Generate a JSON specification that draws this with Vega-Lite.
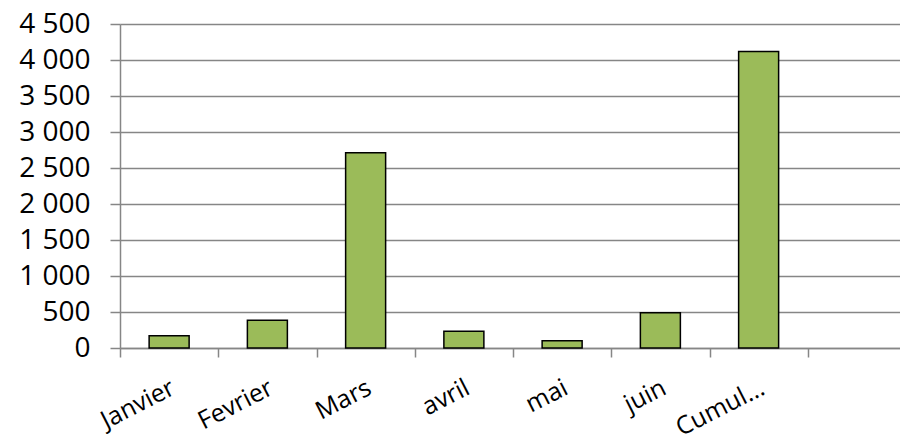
{
  "$schema": "https://vega.github.io/schema/vega-lite/v6.json",
  "autosize": "none",
  "width": 786,
  "height": 324,
  "padding": {"left": 120, "top": 24, "right": 0, "bottom": 98},
  "background": "white",
  "data": {"values": [
    {"mois": "Janvier", "valeur": 170},
    {"mois": "Fevrier", "valeur": 385},
    {"mois": "Mars", "valeur": 2713},
    {"mois": "avril", "valeur": 231},
    {"mois": "mai", "valeur": 101},
    {"mois": "juin", "valeur": 490},
    {"mois": "Cumul…", "valeur": 4117}
  ]},
  "mark": {"type": "bar", "size": 40, "color": "#9BBB59", "stroke": "#000000", "strokeWidth": 1.5},
  "encoding": {
    "x": {
      "field": "mois", "type": "nominal", "title": null,
      "scale": {"domain": ["Janvier", "Fevrier", "Mars", "avril", "mai", "juin", "Cumul…", " "], "paddingInner": 0, "paddingOuter": 0},
      "axis": {
        "tickBand": "extent", "grid": false, "domainColor": "#868686", "domainWidth": 1.5,
        "tickColor": "#868686", "tickWidth": 1.5, "tickSize": 9,
        "labelAngle": -27, "labelAlign": "right", "labelBaseline": "top", "labelPadding": 18,
        "labelOffset": -2,
        "labelFont": "Open Sans", "labelFontSize": 25, "labelColor": "#000000"
      }
    },
    "y": {
      "field": "valeur", "type": "quantitative", "title": null,
      "scale": {"domain": [0, 4500], "nice": false},
      "axis": {
        "values": [0, 500, 1000, 1500, 2000, 2500, 3000, 3500, 4000, 4500],
        "labelExpr": "replace(format(datum.value, ','), ',', ' ')",
        "grid": true, "gridColor": "#868686", "gridWidth": 1.5,
        "domainColor": "#868686", "domainWidth": 1.5,
        "tickColor": "#868686", "tickWidth": 1.5, "tickSize": 10,
        "labelPadding": 20, "labelFont": "Open Sans", "labelFontSize": 28, "labelColor": "#000000"
      }
    }
  },
  "config": {"view": {"stroke": null}}
}
